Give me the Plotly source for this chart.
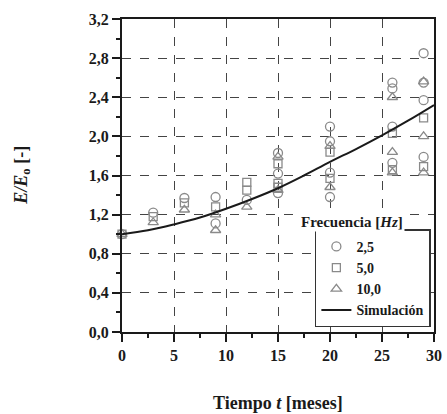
import plotly.graph_objects as go

# ---- data ----
t_c = [0, 3, 6, 9, 9, 12, 15, 15, 15, 20, 20, 20, 20, 26, 26, 26, 26, 29, 29, 29, 29]
v_c = [1.00, 1.22, 1.37, 1.38, 1.11, 1.35, 1.83, 1.62, 1.42, 2.10, 1.95, 1.63, 1.38, 2.55, 2.49, 2.10, 1.73, 2.85, 2.55, 2.37, 1.79]

t_s = [0, 3, 6, 9, 12, 12, 15, 15, 15, 20, 20, 26, 26, 29, 29]
v_s = [1.00, 1.18, 1.32, 1.28, 1.53, 1.45, 1.72, 1.52, 1.48, 1.84, 1.57, 2.03, 1.66, 2.19, 1.69]

t_t = [0, 3, 6, 9, 9, 12, 15, 15, 20, 20, 26, 26, 26, 29, 29, 29]
v_t = [1.00, 1.12, 1.25, 1.20, 1.04, 1.28, 1.79, 1.45, 1.90, 1.48, 2.40, 1.84, 1.63, 2.56, 2.00, 1.63]

t_sim = [0, 2.5, 5, 7.5, 10, 12.5, 15, 17.5, 20, 22.5, 25, 27.5, 30]
v_sim = [1.00, 1.04, 1.10, 1.17, 1.26, 1.36, 1.47, 1.60, 1.74, 1.87, 2.01, 2.16, 2.32]

series_names = ["2,5", "5,0", "10,0", "Simulación"]
x_title = "Tiempo <i>t</i> [meses]"
y_title = "<i>E/E</i><sub>o</sub> [-]"
legend_title = "Frecuencia [<i>Hz</i>]"

FONT = "Liberation Serif"
GRAY = "#8a8a8a"
INK = "#1a1a1a"

fig = go.Figure()
fig.add_trace(go.Scatter(x=t_c, y=v_c, mode="markers", name=series_names[0],
                         marker=dict(symbol="circle-open", size=9, color=GRAY, line=dict(width=1.3)),
                         cliponaxis=False))
fig.add_trace(go.Scatter(x=t_s, y=v_s, mode="markers", name=series_names[1],
                         marker=dict(symbol="square-open", size=8, color=GRAY, line=dict(width=1.3)),
                         cliponaxis=False))
fig.add_trace(go.Scatter(x=t_t, y=v_t, mode="markers", name=series_names[2],
                         marker=dict(symbol="triangle-up-open", size=9, color=GRAY, line=dict(width=1.3)),
                         cliponaxis=False))
fig.add_trace(go.Scatter(x=t_sim, y=v_sim, mode="lines", name=series_names[3],
                         line=dict(color=INK, width=2, shape="spline")))

axis_common = dict(
    showline=True, linecolor=INK, linewidth=2, mirror=True,
    ticks="outside", ticklen=8, tickwidth=2, tickcolor=INK,
    showgrid=True, gridcolor="#444444", gridwidth=1, griddash="dash",
    zeroline=False, automargin=False,
    tickfont=dict(family=FONT, size=16, color=INK, weight="bold"),
)

fig.update_xaxes(range=[0, 30], dtick=5, tick0=0,
                 minor=dict(dtick=2.5, ticks="outside", ticklen=4, tickcolor=INK, showgrid=False),
                 **axis_common)
fig.update_yaxes(range=[0, 3.2], dtick=0.4, tick0=0, tickformat=".1f",
                 minor=dict(dtick=0.2, ticks="outside", ticklen=4, tickcolor=INK, showgrid=False),
                 **axis_common)

title_font = dict(family=FONT, size=18, color=INK, weight="bold")

fig.update_layout(
    width=447, height=414,
    margin=dict(l=122, r=13, t=19, b=82),
    paper_bgcolor="white", plot_bgcolor="white",
    separators=", ",
    font=dict(family=FONT, size=15, color=INK),
    showlegend=True,
    legend=dict(x=0.99, y=0.015, xanchor="right", yanchor="bottom",
                bgcolor="white", bordercolor="#333333", borderwidth=1.5,
                font=dict(family=FONT, size=14, color=INK, weight="bold"),
                tracegroupgap=0, itemwidth=30),
    annotations=[
        dict(text=legend_title, x=0.737, y=0.352, xref="paper", yref="paper",
             xanchor="center", yanchor="middle",
             showarrow=False, font=dict(family=FONT, size=15, color=INK, weight="bold"),
             bgcolor="white"),
        dict(text=x_title, x=0.5, y=-0.227, xref="paper", yref="paper",
             xanchor="center", yanchor="middle", showarrow=False, font=title_font),
        dict(text=y_title, x=-0.32, y=0.5, xref="paper", yref="paper", textangle=-90,
             xanchor="center", yanchor="middle", showarrow=False, font=title_font),
    ],
)

fig.write_html("out.html")
